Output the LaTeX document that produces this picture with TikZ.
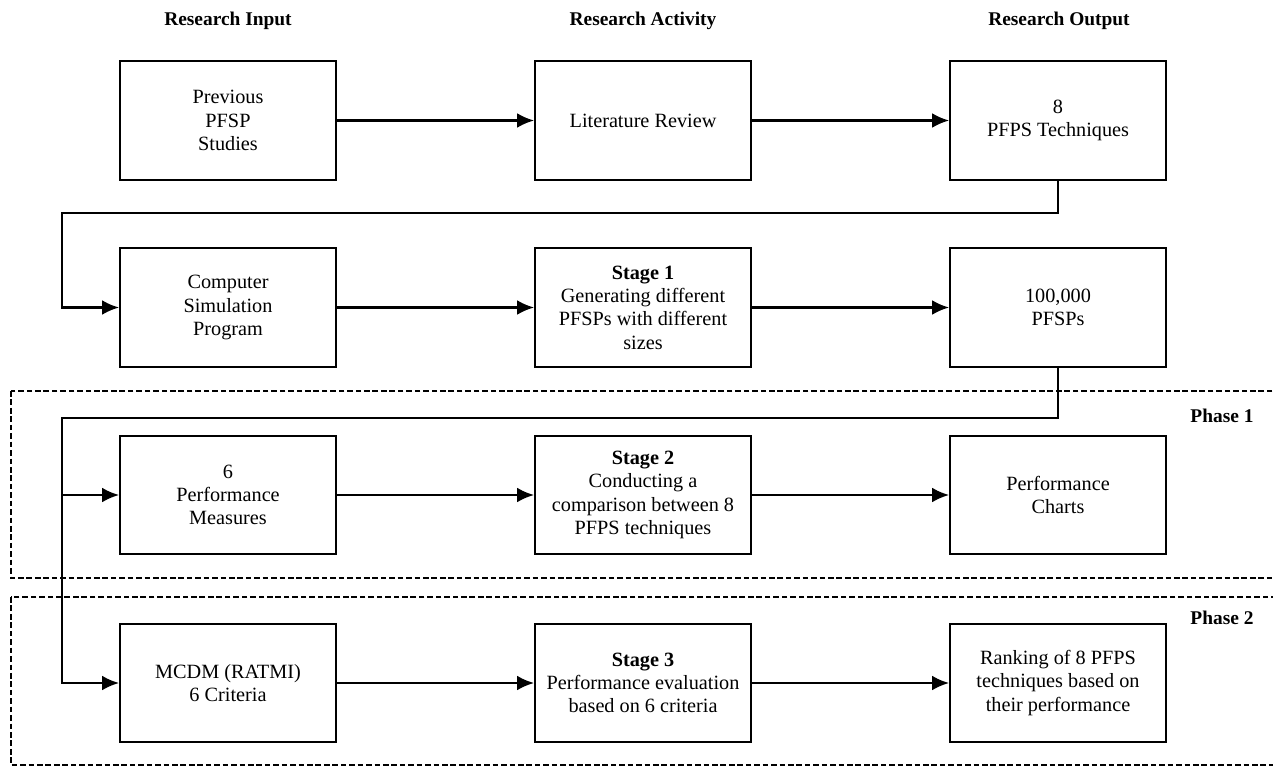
\documentclass[tikz,border=0pt]{standalone}
\usepackage{fontspec}
\setmainfont{Liberation Serif}
\usetikzlibrary{arrows.meta}

\tikzset{
  blk/.style={draw, line width=1.4pt, minimum width=5.4cm, minimum height=2.97cm,
    align=center, font=\fontsize{14.4}{16.6}\selectfont},
  arr/.style={line width=1.5pt, -{Latex[length=12pt,width=10.5pt]}},
  phase/.style={line width=1.2pt, dash pattern=on 4pt off 2pt},
  hdr/.style={font=\fontsize{13.8}{16}\selectfont\bfseries}
}

\begin{document}
\begin{tikzpicture}[x=0.025cm, y=-0.025cm]
\clip (0,0) rectangle (1273,767);

% Phases
\draw[phase] (11,391) rectangle (1290,578);
\draw[phase] (11,597) rectangle (1290,765);
\node[hdr] (ph1) at (1222,416) {Phase 1};
\node[hdr] (ph2) at (1222,618) {Phase 2};

% Headers
\node[hdr] (hin) at (228,21) {Research Input};
\node[hdr] (hact) at (643,21) {Research Activity};
\node[hdr] (hout) at (1059,21) {Research Output};

% Boxes
\node[blk] (prev) at (228,120.5) {Previous\\PFSP\\Studies};
\node[blk] (lit) at (643,120.5) {Literature Review};
\node[blk] (tech) at (1058,120.5) {8\\PFPS Techniques};

\node[blk] (csp) at (228,307.5) {Computer\\Simulation\\Program};
\node[blk] (st1) at (643,307.5) {\textbf{Stage 1}\\Generating different\\PFSPs with different\\sizes};
\node[blk] (pfsp) at (1058,307.5) {100,000\\PFSPs};

\node[blk] (perf) at (228,495) {6\\Performance\\Measures};
\node[blk] (st2) at (643,495) {\textbf{Stage 2}\\Conducting a\\comparison between 8\\PFPS techniques};
\node[blk] (chart) at (1058,495) {Performance\\Charts};

\node[blk] (mcdm) at (228,683) {MCDM (RATMI)\\6 Criteria};
\node[blk] (st3) at (643,683) {\textbf{Stage 3}\\Performance evaluation\\based on 6 criteria};
\node[blk] (rank) at (1058,683) {Ranking of 8 PFPS\\techniques based on\\their performance};

% Arrows
\draw[arr] (prev) -- (lit);
\draw[arr] (lit) -- (tech);
\draw[arr] (csp) -- (st1);
\draw[arr] (st1) -- (pfsp);
\draw[arr] (perf) -- (st2);
\draw[arr] (st2) -- (chart);
\draw[arr] (mcdm) -- (st3);
\draw[arr] (st3) -- (rank);

% Feedback lines
\coordinate (k1) at (62,213);
\coordinate (k2) at (62,418);
\draw[arr] (tech.south) |- (k1) |- (csp.west);
\draw[arr] (pfsp.south) |- (k2) |- (mcdm.west);
\draw[arr] (k2) |- (perf.west);
\end{tikzpicture}
\end{document}
